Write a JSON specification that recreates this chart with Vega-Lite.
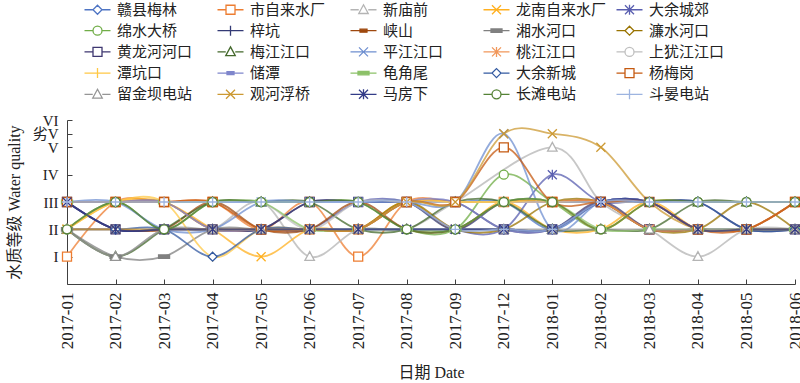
{
"$schema":"https://vega.github.io/schema/vega-lite/v6.json",
"width":728,"height":164,
"autosize":{"type":"none"},
"padding":{"left":67,"top":120,"right":5,"bottom":99},
"background":"white",
"config":{"view":{"stroke":null},
 "axis":{"grid":false,"domainColor":"#404040","tickColor":"#404040","tickSize":-5,"labelFont":"Liberation Serif","labelFontSize":16,"labelColor":"#222","titleFont":"Liberation Serif, Noto Sans CJK SC","titleFontSize":16,"titleFontWeight":"normal","titleColor":"#222","labelOverlap":false,"labelBound":false},
 "legend":{"orient":"none","legendX":15,"legendY":-118,"columns":5,"direction":"horizontal","title":null,"gridAlign":"all","columnPadding":6,"rowPadding":4.2,"symbolSize":100,"symbolStrokeWidth":1.3,"symbolOpacity":1,"symbolOffset":8,"labelOffset":12,"labelFont":"Noto Sans CJK SC","labelFontSize":15,"labelColor":"#222","labelLimit":200,"padding":0}},
"data":{"values":[
{"s":"赣县梅林","d":"2017-01","v":3},{"s":"赣县梅林","d":"2017-02","v":3},{"s":"赣县梅林","d":"2017-03","v":3},{"s":"赣县梅林","d":"2017-04","v":3},{"s":"赣县梅林","d":"2017-05","v":3},{"s":"赣县梅林","d":"2017-06","v":3},{"s":"赣县梅林","d":"2017-07","v":3},{"s":"赣县梅林","d":"2017-08","v":3},{"s":"赣县梅林","d":"2017-09","v":3},{"s":"赣县梅林","d":"2017-12","v":3},{"s":"赣县梅林","d":"2018-01","v":2},{"s":"赣县梅林","d":"2018-02","v":3},{"s":"赣县梅林","d":"2018-03","v":3},{"s":"赣县梅林","d":"2018-04","v":3},{"s":"赣县梅林","d":"2018-05","v":3},{"s":"赣县梅林","d":"2018-06","v":3},
{"s":"市自来水厂","d":"2017-01","v":1},{"s":"市自来水厂","d":"2017-02","v":3},{"s":"市自来水厂","d":"2017-03","v":3},{"s":"市自来水厂","d":"2017-04","v":3},{"s":"市自来水厂","d":"2017-05","v":2},{"s":"市自来水厂","d":"2017-06","v":3},{"s":"市自来水厂","d":"2017-07","v":1},{"s":"市自来水厂","d":"2017-08","v":3},{"s":"市自来水厂","d":"2017-09","v":3},{"s":"市自来水厂","d":"2017-12","v":3},{"s":"市自来水厂","d":"2018-01","v":3},{"s":"市自来水厂","d":"2018-02","v":3},{"s":"市自来水厂","d":"2018-03","v":2},{"s":"市自来水厂","d":"2018-04","v":2},{"s":"市自来水厂","d":"2018-05","v":2},{"s":"市自来水厂","d":"2018-06","v":3},
{"s":"新庙前","d":"2017-01","v":2},{"s":"新庙前","d":"2017-02","v":1},{"s":"新庙前","d":"2017-03","v":2},{"s":"新庙前","d":"2017-04","v":2},{"s":"新庙前","d":"2017-05","v":3},{"s":"新庙前","d":"2017-06","v":1},{"s":"新庙前","d":"2017-07","v":2},{"s":"新庙前","d":"2017-08","v":2},{"s":"新庙前","d":"2017-09","v":3},{"s":"新庙前","d":"2018-01","v":5},{"s":"新庙前","d":"2018-02","v":3},{"s":"新庙前","d":"2018-03","v":2},{"s":"新庙前","d":"2018-04","v":1},{"s":"新庙前","d":"2018-05","v":2},{"s":"新庙前","d":"2018-06","v":2},
{"s":"龙南自来水厂","d":"2017-01","v":2},{"s":"龙南自来水厂","d":"2017-02","v":3},{"s":"龙南自来水厂","d":"2017-03","v":3},{"s":"龙南自来水厂","d":"2017-04","v":2},{"s":"龙南自来水厂","d":"2017-05","v":1},{"s":"龙南自来水厂","d":"2017-06","v":2},{"s":"龙南自来水厂","d":"2017-07","v":2},{"s":"龙南自来水厂","d":"2017-08","v":3},{"s":"龙南自来水厂","d":"2017-09","v":2},{"s":"龙南自来水厂","d":"2017-12","v":3},{"s":"龙南自来水厂","d":"2018-01","v":2},{"s":"龙南自来水厂","d":"2018-02","v":2},{"s":"龙南自来水厂","d":"2018-03","v":3},{"s":"龙南自来水厂","d":"2018-04","v":2},{"s":"龙南自来水厂","d":"2018-05","v":2},{"s":"龙南自来水厂","d":"2018-06","v":2},
{"s":"大余城郊","d":"2017-01","v":3},{"s":"大余城郊","d":"2017-02","v":2},{"s":"大余城郊","d":"2017-03","v":2},{"s":"大余城郊","d":"2017-04","v":2},{"s":"大余城郊","d":"2017-05","v":2},{"s":"大余城郊","d":"2017-06","v":2},{"s":"大余城郊","d":"2017-07","v":3},{"s":"大余城郊","d":"2017-08","v":3},{"s":"大余城郊","d":"2017-09","v":2},{"s":"大余城郊","d":"2017-12","v":2},{"s":"大余城郊","d":"2018-01","v":4},{"s":"大余城郊","d":"2018-02","v":3},{"s":"大余城郊","d":"2018-03","v":3},{"s":"大余城郊","d":"2018-04","v":2},{"s":"大余城郊","d":"2018-05","v":2},{"s":"大余城郊","d":"2018-06","v":2},
{"s":"绵水大桥","d":"2017-01","v":2},{"s":"绵水大桥","d":"2017-02","v":3},{"s":"绵水大桥","d":"2017-03","v":2},{"s":"绵水大桥","d":"2017-04","v":3},{"s":"绵水大桥","d":"2017-05","v":3},{"s":"绵水大桥","d":"2017-06","v":3},{"s":"绵水大桥","d":"2017-07","v":3},{"s":"绵水大桥","d":"2017-08","v":2},{"s":"绵水大桥","d":"2017-09","v":2},{"s":"绵水大桥","d":"2017-12","v":4},{"s":"绵水大桥","d":"2018-01","v":3},{"s":"绵水大桥","d":"2018-02","v":2},{"s":"绵水大桥","d":"2018-03","v":3},{"s":"绵水大桥","d":"2018-04","v":3},{"s":"绵水大桥","d":"2018-05","v":3},{"s":"绵水大桥","d":"2018-06","v":3},
{"s":"梓坑","d":"2017-01","v":3},{"s":"梓坑","d":"2017-02","v":2},{"s":"梓坑","d":"2017-03","v":2},{"s":"梓坑","d":"2017-04","v":2},{"s":"梓坑","d":"2017-05","v":2},{"s":"梓坑","d":"2017-06","v":3},{"s":"梓坑","d":"2017-07","v":3},{"s":"梓坑","d":"2017-08","v":3},{"s":"梓坑","d":"2017-09","v":2},{"s":"梓坑","d":"2017-12","v":3},{"s":"梓坑","d":"2018-01","v":3},{"s":"梓坑","d":"2018-02","v":3},{"s":"梓坑","d":"2018-03","v":3},{"s":"梓坑","d":"2018-04","v":3},{"s":"梓坑","d":"2018-05","v":2},{"s":"梓坑","d":"2018-06","v":2},
{"s":"峡山","d":"2017-01","v":2},{"s":"峡山","d":"2017-02","v":2},{"s":"峡山","d":"2017-03","v":2},{"s":"峡山","d":"2017-04","v":3},{"s":"峡山","d":"2017-05","v":2},{"s":"峡山","d":"2017-06","v":2},{"s":"峡山","d":"2017-07","v":3},{"s":"峡山","d":"2017-08","v":2},{"s":"峡山","d":"2017-09","v":2},{"s":"峡山","d":"2017-12","v":3},{"s":"峡山","d":"2018-01","v":3},{"s":"峡山","d":"2018-02","v":3},{"s":"峡山","d":"2018-03","v":2},{"s":"峡山","d":"2018-04","v":2},{"s":"峡山","d":"2018-05","v":2},{"s":"峡山","d":"2018-06","v":3},
{"s":"湘水河口","d":"2017-01","v":2},{"s":"湘水河口","d":"2017-02","v":1},{"s":"湘水河口","d":"2017-03","v":1},{"s":"湘水河口","d":"2017-04","v":2},{"s":"湘水河口","d":"2017-05","v":2},{"s":"湘水河口","d":"2017-06","v":2},{"s":"湘水河口","d":"2017-07","v":2},{"s":"湘水河口","d":"2017-08","v":2},{"s":"湘水河口","d":"2017-09","v":2},{"s":"湘水河口","d":"2017-12","v":2},{"s":"湘水河口","d":"2018-01","v":2},{"s":"湘水河口","d":"2018-02","v":3},{"s":"湘水河口","d":"2018-03","v":3},{"s":"湘水河口","d":"2018-04","v":2},{"s":"湘水河口","d":"2018-05","v":2},{"s":"湘水河口","d":"2018-06","v":2},
{"s":"濂水河口","d":"2017-01","v":3},{"s":"濂水河口","d":"2017-02","v":3},{"s":"濂水河口","d":"2017-03","v":3},{"s":"濂水河口","d":"2017-04","v":2},{"s":"濂水河口","d":"2017-05","v":2},{"s":"濂水河口","d":"2017-06","v":2},{"s":"濂水河口","d":"2017-07","v":2},{"s":"濂水河口","d":"2017-08","v":3},{"s":"濂水河口","d":"2017-09","v":2},{"s":"濂水河口","d":"2017-12","v":2},{"s":"濂水河口","d":"2018-01","v":3},{"s":"濂水河口","d":"2018-02","v":3},{"s":"濂水河口","d":"2018-03","v":2},{"s":"濂水河口","d":"2018-04","v":2},{"s":"濂水河口","d":"2018-05","v":3},{"s":"濂水河口","d":"2018-06","v":2},
{"s":"黄龙河河口","d":"2017-01","v":3},{"s":"黄龙河河口","d":"2017-02","v":2},{"s":"黄龙河河口","d":"2017-03","v":2},{"s":"黄龙河河口","d":"2017-04","v":2},{"s":"黄龙河河口","d":"2017-05","v":2},{"s":"黄龙河河口","d":"2017-06","v":3},{"s":"黄龙河河口","d":"2017-07","v":3},{"s":"黄龙河河口","d":"2017-08","v":3},{"s":"黄龙河河口","d":"2017-09","v":3},{"s":"黄龙河河口","d":"2017-12","v":2},{"s":"黄龙河河口","d":"2018-01","v":2},{"s":"黄龙河河口","d":"2018-02","v":3},{"s":"黄龙河河口","d":"2018-03","v":2},{"s":"黄龙河河口","d":"2018-04","v":2},{"s":"黄龙河河口","d":"2018-05","v":2},{"s":"黄龙河河口","d":"2018-06","v":2},
{"s":"梅江江口","d":"2017-01","v":2},{"s":"梅江江口","d":"2017-02","v":1},{"s":"梅江江口","d":"2017-03","v":2},{"s":"梅江江口","d":"2017-04","v":3},{"s":"梅江江口","d":"2017-05","v":3},{"s":"梅江江口","d":"2017-06","v":3},{"s":"梅江江口","d":"2017-07","v":2},{"s":"梅江江口","d":"2017-08","v":2},{"s":"梅江江口","d":"2017-09","v":3},{"s":"梅江江口","d":"2017-12","v":3},{"s":"梅江江口","d":"2018-01","v":2},{"s":"梅江江口","d":"2018-02","v":2},{"s":"梅江江口","d":"2018-03","v":2},{"s":"梅江江口","d":"2018-04","v":3},{"s":"梅江江口","d":"2018-05","v":3},{"s":"梅江江口","d":"2018-06","v":3},
{"s":"平江江口","d":"2017-01","v":3},{"s":"平江江口","d":"2017-02","v":3},{"s":"平江江口","d":"2017-03","v":2},{"s":"平江江口","d":"2017-04","v":2},{"s":"平江江口","d":"2017-05","v":3},{"s":"平江江口","d":"2017-06","v":3},{"s":"平江江口","d":"2017-07","v":3},{"s":"平江江口","d":"2017-08","v":3},{"s":"平江江口","d":"2017-09","v":3},{"s":"平江江口","d":"2017-12","v":5.5},{"s":"平江江口","d":"2018-01","v":2},{"s":"平江江口","d":"2018-02","v":3},{"s":"平江江口","d":"2018-03","v":3},{"s":"平江江口","d":"2018-04","v":2},{"s":"平江江口","d":"2018-05","v":2},{"s":"平江江口","d":"2018-06","v":2},
{"s":"桃江江口","d":"2017-01","v":3},{"s":"桃江江口","d":"2017-02","v":3},{"s":"桃江江口","d":"2017-03","v":3},{"s":"桃江江口","d":"2017-04","v":2},{"s":"桃江江口","d":"2017-05","v":2},{"s":"桃江江口","d":"2017-06","v":2},{"s":"桃江江口","d":"2017-07","v":2},{"s":"桃江江口","d":"2017-08","v":3},{"s":"桃江江口","d":"2017-09","v":3},{"s":"桃江江口","d":"2017-12","v":3},{"s":"桃江江口","d":"2018-01","v":3},{"s":"桃江江口","d":"2018-02","v":3},{"s":"桃江江口","d":"2018-03","v":2},{"s":"桃江江口","d":"2018-04","v":2},{"s":"桃江江口","d":"2018-05","v":2},{"s":"桃江江口","d":"2018-06","v":3},
{"s":"上犹江江口","d":"2017-01","v":3},{"s":"上犹江江口","d":"2017-02","v":3},{"s":"上犹江江口","d":"2017-03","v":3},{"s":"上犹江江口","d":"2017-04","v":3},{"s":"上犹江江口","d":"2017-05","v":3},{"s":"上犹江江口","d":"2017-06","v":2},{"s":"上犹江江口","d":"2017-07","v":3},{"s":"上犹江江口","d":"2017-08","v":3},{"s":"上犹江江口","d":"2017-09","v":3},{"s":"上犹江江口","d":"2017-12","v":3},{"s":"上犹江江口","d":"2018-01","v":3},{"s":"上犹江江口","d":"2018-02","v":3},{"s":"上犹江江口","d":"2018-03","v":3},{"s":"上犹江江口","d":"2018-04","v":3},{"s":"上犹江江口","d":"2018-05","v":3},{"s":"上犹江江口","d":"2018-06","v":3},
{"s":"潭坑口","d":"2017-01","v":2},{"s":"潭坑口","d":"2017-02","v":3},{"s":"潭坑口","d":"2017-03","v":3},{"s":"潭坑口","d":"2017-04","v":1},{"s":"潭坑口","d":"2017-05","v":2},{"s":"潭坑口","d":"2017-06","v":2},{"s":"潭坑口","d":"2017-07","v":2},{"s":"潭坑口","d":"2017-08","v":3},{"s":"潭坑口","d":"2017-09","v":3},{"s":"潭坑口","d":"2017-12","v":3},{"s":"潭坑口","d":"2018-01","v":3},{"s":"潭坑口","d":"2018-02","v":2},{"s":"潭坑口","d":"2018-03","v":3},{"s":"潭坑口","d":"2018-04","v":3},{"s":"潭坑口","d":"2018-05","v":3},{"s":"潭坑口","d":"2018-06","v":3},
{"s":"储潭","d":"2017-01","v":3},{"s":"储潭","d":"2017-02","v":3},{"s":"储潭","d":"2017-03","v":3},{"s":"储潭","d":"2017-04","v":2},{"s":"储潭","d":"2017-05","v":2},{"s":"储潭","d":"2017-06","v":2},{"s":"储潭","d":"2017-07","v":2},{"s":"储潭","d":"2017-08","v":3},{"s":"储潭","d":"2017-09","v":3},{"s":"储潭","d":"2017-12","v":2},{"s":"储潭","d":"2018-01","v":2},{"s":"储潭","d":"2018-02","v":3},{"s":"储潭","d":"2018-03","v":3},{"s":"储潭","d":"2018-04","v":2},{"s":"储潭","d":"2018-05","v":2},{"s":"储潭","d":"2018-06","v":2},
{"s":"龟角尾","d":"2017-01","v":3},{"s":"龟角尾","d":"2017-02","v":3},{"s":"龟角尾","d":"2017-03","v":3},{"s":"龟角尾","d":"2017-04","v":3},{"s":"龟角尾","d":"2017-05","v":3},{"s":"龟角尾","d":"2017-06","v":2},{"s":"龟角尾","d":"2017-07","v":2},{"s":"龟角尾","d":"2017-08","v":2},{"s":"龟角尾","d":"2017-09","v":2},{"s":"龟角尾","d":"2017-12","v":3},{"s":"龟角尾","d":"2018-01","v":3},{"s":"龟角尾","d":"2018-02","v":2},{"s":"龟角尾","d":"2018-03","v":2},{"s":"龟角尾","d":"2018-04","v":2},{"s":"龟角尾","d":"2018-05","v":2},{"s":"龟角尾","d":"2018-06","v":2},
{"s":"大余新城","d":"2017-01","v":2},{"s":"大余新城","d":"2017-02","v":2},{"s":"大余新城","d":"2017-03","v":2},{"s":"大余新城","d":"2017-04","v":1},{"s":"大余新城","d":"2017-05","v":2},{"s":"大余新城","d":"2017-06","v":2},{"s":"大余新城","d":"2017-07","v":2},{"s":"大余新城","d":"2017-08","v":2},{"s":"大余新城","d":"2017-09","v":2},{"s":"大余新城","d":"2017-12","v":2},{"s":"大余新城","d":"2018-01","v":2},{"s":"大余新城","d":"2018-02","v":3},{"s":"大余新城","d":"2018-03","v":3},{"s":"大余新城","d":"2018-04","v":3},{"s":"大余新城","d":"2018-05","v":2},{"s":"大余新城","d":"2018-06","v":2},
{"s":"杨梅岗","d":"2017-01","v":3},{"s":"杨梅岗","d":"2017-02","v":3},{"s":"杨梅岗","d":"2017-03","v":3},{"s":"杨梅岗","d":"2017-04","v":3},{"s":"杨梅岗","d":"2017-05","v":2},{"s":"杨梅岗","d":"2017-06","v":2},{"s":"杨梅岗","d":"2017-07","v":2},{"s":"杨梅岗","d":"2017-08","v":3},{"s":"杨梅岗","d":"2017-09","v":3},{"s":"杨梅岗","d":"2017-12","v":5},{"s":"杨梅岗","d":"2018-01","v":3},{"s":"杨梅岗","d":"2018-02","v":3},{"s":"杨梅岗","d":"2018-03","v":3},{"s":"杨梅岗","d":"2018-04","v":2},{"s":"杨梅岗","d":"2018-05","v":2},{"s":"杨梅岗","d":"2018-06","v":3},
{"s":"留金坝电站","d":"2017-01","v":2},{"s":"留金坝电站","d":"2017-02","v":1},{"s":"留金坝电站","d":"2017-03","v":2},{"s":"留金坝电站","d":"2017-04","v":2},{"s":"留金坝电站","d":"2017-05","v":2},{"s":"留金坝电站","d":"2017-06","v":2},{"s":"留金坝电站","d":"2017-07","v":2},{"s":"留金坝电站","d":"2017-08","v":2},{"s":"留金坝电站","d":"2017-09","v":2},{"s":"留金坝电站","d":"2017-12","v":2},{"s":"留金坝电站","d":"2018-01","v":2},{"s":"留金坝电站","d":"2018-02","v":2},{"s":"留金坝电站","d":"2018-03","v":2},{"s":"留金坝电站","d":"2018-04","v":2},{"s":"留金坝电站","d":"2018-05","v":2},{"s":"留金坝电站","d":"2018-06","v":2},
{"s":"观河浮桥","d":"2017-01","v":2},{"s":"观河浮桥","d":"2017-02","v":2},{"s":"观河浮桥","d":"2017-03","v":2},{"s":"观河浮桥","d":"2017-04","v":2},{"s":"观河浮桥","d":"2017-05","v":2},{"s":"观河浮桥","d":"2017-06","v":2},{"s":"观河浮桥","d":"2017-07","v":2},{"s":"观河浮桥","d":"2017-08","v":3},{"s":"观河浮桥","d":"2017-09","v":3},{"s":"观河浮桥","d":"2017-12","v":5.5},{"s":"观河浮桥","d":"2018-01","v":5.5},{"s":"观河浮桥","d":"2018-02","v":5},{"s":"观河浮桥","d":"2018-03","v":3},{"s":"观河浮桥","d":"2018-04","v":2},{"s":"观河浮桥","d":"2018-05","v":2},{"s":"观河浮桥","d":"2018-06","v":2},
{"s":"马房下","d":"2017-01","v":3},{"s":"马房下","d":"2017-02","v":2},{"s":"马房下","d":"2017-03","v":2},{"s":"马房下","d":"2017-04","v":2},{"s":"马房下","d":"2017-05","v":2},{"s":"马房下","d":"2017-06","v":2},{"s":"马房下","d":"2017-07","v":2},{"s":"马房下","d":"2017-08","v":2},{"s":"马房下","d":"2017-09","v":2},{"s":"马房下","d":"2017-12","v":2},{"s":"马房下","d":"2018-01","v":2},{"s":"马房下","d":"2018-02","v":3},{"s":"马房下","d":"2018-03","v":3},{"s":"马房下","d":"2018-04","v":2},{"s":"马房下","d":"2018-05","v":2},{"s":"马房下","d":"2018-06","v":2},
{"s":"长滩电站","d":"2017-01","v":2},{"s":"长滩电站","d":"2017-02","v":3},{"s":"长滩电站","d":"2017-03","v":2},{"s":"长滩电站","d":"2017-04","v":3},{"s":"长滩电站","d":"2017-05","v":3},{"s":"长滩电站","d":"2017-06","v":3},{"s":"长滩电站","d":"2017-07","v":3},{"s":"长滩电站","d":"2017-08","v":2},{"s":"长滩电站","d":"2017-09","v":2},{"s":"长滩电站","d":"2017-12","v":3},{"s":"长滩电站","d":"2018-01","v":3},{"s":"长滩电站","d":"2018-02","v":2},{"s":"长滩电站","d":"2018-03","v":3},{"s":"长滩电站","d":"2018-04","v":3},{"s":"长滩电站","d":"2018-05","v":3},{"s":"长滩电站","d":"2018-06","v":3},
{"s":"斗晏电站","d":"2017-01","v":3},{"s":"斗晏电站","d":"2017-02","v":3},{"s":"斗晏电站","d":"2017-03","v":3},{"s":"斗晏电站","d":"2017-04","v":3},{"s":"斗晏电站","d":"2017-05","v":3},{"s":"斗晏电站","d":"2017-06","v":3},{"s":"斗晏电站","d":"2017-07","v":3},{"s":"斗晏电站","d":"2017-08","v":3},{"s":"斗晏电站","d":"2017-09","v":2},{"s":"斗晏电站","d":"2017-12","v":2},{"s":"斗晏电站","d":"2018-01","v":2},{"s":"斗晏电站","d":"2018-02","v":3},{"s":"斗晏电站","d":"2018-03","v":3},{"s":"斗晏电站","d":"2018-04","v":3},{"s":"斗晏电站","d":"2018-05","v":3},{"s":"斗晏电站","d":"2018-06","v":3}
]},
"encoding":{
 "x":{"field":"d","type":"ordinal","scale":{"type":"point","padding":0},
  "axis":{"title":"日期 Date","labelAngle":-90,"labelAlign":"right","labelBaseline":"middle","labelPadding":13,"titlePadding":16,"labelFontSize":17}},
 "y":{"field":"v","type":"quantitative","scale":{"domain":[0,6],"nice":false,"zero":false},
  "axis":{"title":"水质等级 Water quality","values":[1,2,3,4,5,5.5,6],"labelExpr":"datum.value==1?'I':datum.value==2?'II':datum.value==3?'III':datum.value==4?'IV':datum.value==5?'V':datum.value==5.5?'劣V':'VI'","labelFont":"Liberation Serif, Noto Sans CJK SC","labelFontSize":15,"labelPadding":14,"titlePadding":10}}
},
"resolve":{"scale":{"stroke":"independent","fill":"independent","shape":"independent"}},
"layer":[
 {"mark":{"type":"line","interpolate":"cardinal","tension":0,"strokeWidth":1.8,"opacity":0.75},
  "encoding":{"stroke":{"field":"s","type":"nominal","legend":null,
   "scale":{"domain":["赣县梅林","市自来水厂","新庙前","龙南自来水厂","大余城郊","绵水大桥","梓坑","峡山","湘水河口","濂水河口","黄龙河河口","梅江江口","平江江口","桃江江口","上犹江江口","潭坑口","储潭","龟角尾","大余新城","杨梅岗","留金坝电站","观河浮桥","马房下","长滩电站","斗晏电站"],
    "range":["#4F75C4","#ED7D31","#B4B4B4","#FFB020","#5A5FB0","#70AD47","#333A75","#9E480E","#808080","#997300","#3E3770","#43682B","#6F8FD0","#F1975A","#BFBFBF","#FFC845","#7F86CC","#8CC168","#335AA1","#C55A11","#959595","#CC9933","#333C88","#548235","#9DB4E0"]}}}},
 {"mark":{"type":"point","size":100,"strokeWidth":1.3,"opacity":1},
  "encoding":{
   "stroke":{"field":"s","type":"nominal","legend":null,"scale":{"domain":["赣县梅林","市自来水厂","新庙前","龙南自来水厂","大余城郊","绵水大桥","梓坑","峡山","湘水河口","濂水河口","黄龙河河口","梅江江口","平江江口","桃江江口","上犹江江口","潭坑口","储潭","龟角尾","大余新城","杨梅岗","留金坝电站","观河浮桥","马房下","长滩电站","斗晏电站"],
    "range":["#4F75C4","#ED7D31","#B4B4B4","#FFB020","#5A5FB0","#70AD47","#333A75","#9E480E","#808080","#997300","#3E3770","#43682B","#6F8FD0","#F1975A","#BFBFBF","#FFC845","#7F86CC","#8CC168","#335AA1","#C55A11","#959595","#CC9933","#333C88","#548235","#9DB4E0"]}},
   "fill":{"field":"s","type":"nominal","legend":null,"scale":{"domain":["赣县梅林","市自来水厂","新庙前","龙南自来水厂","大余城郊","绵水大桥","梓坑","峡山","湘水河口","濂水河口","黄龙河河口","梅江江口","平江江口","桃江江口","上犹江江口","潭坑口","储潭","龟角尾","大余新城","杨梅岗","留金坝电站","观河浮桥","马房下","长滩电站","斗晏电站"],
    "range":["#ffffff","#ffffff","#ffffff","transparent","transparent","#ffffff","transparent","#9E480E","#808080","#ffffff","#ffffff","#ffffff","transparent","transparent","#ffffff","transparent","#7F86CC","#8CC168","#ffffff","#ffffff","#ffffff","transparent","transparent","#ffffff","transparent"]}},
   "shape":{"field":"s","type":"nominal","legend":null,"scale":{"domain":["赣县梅林","市自来水厂","新庙前","龙南自来水厂","大余城郊","绵水大桥","梓坑","峡山","湘水河口","濂水河口","黄龙河河口","梅江江口","平江江口","桃江江口","上犹江江口","潭坑口","储潭","龟角尾","大余新城","杨梅岗","留金坝电站","观河浮桥","马房下","长滩电站","斗晏电站"],
    "range":["M0,-0.9L0.9,0L0,0.9L-0.9,0Z","M-0.9,-0.9H0.9V0.9H-0.9Z","M0,-1L0.95,0.75H-0.95Z","M-0.9,-0.9L0.9,0.9M-0.9,0.9L0.9,-0.9","M-0.9,-0.9L0.9,0.9M-0.9,0.9L0.9,-0.9M0,-1V1","M-0.9,0A0.9,0.9 0 1,0 0.9,0A0.9,0.9 0 1,0 -0.9,0Z","M0,-1V1M-1,0H1","M-0.7,-0.3H0.7V0.3H-0.7Z","M-1.1,-0.35H1.1V0.35H-1.1Z","M0,-0.9L0.9,0L0,0.9L-0.9,0Z","M-0.9,-0.9H0.9V0.9H-0.9Z","M0,-1L0.95,0.75H-0.95Z","M-0.9,-0.9L0.9,0.9M-0.9,0.9L0.9,-0.9","M-0.9,-0.9L0.9,0.9M-0.9,0.9L0.9,-0.9M0,-1V1","M-0.9,0A0.9,0.9 0 1,0 0.9,0A0.9,0.9 0 1,0 -0.9,0Z","M0,-1V1M-1,0H1","M-0.7,-0.3H0.7V0.3H-0.7Z","M-1.1,-0.35H1.1V0.35H-1.1Z","M0,-0.9L0.9,0L0,0.9L-0.9,0Z","M-0.9,-0.9H0.9V0.9H-0.9Z","M0,-1L0.95,0.75H-0.95Z","M-0.9,-0.9L0.9,0.9M-0.9,0.9L0.9,-0.9","M-0.9,-0.9L0.9,0.9M-0.9,0.9L0.9,-0.9M0,-1V1","M-0.9,0A0.9,0.9 0 1,0 0.9,0A0.9,0.9 0 1,0 -0.9,0Z","M0,-1V1M-1,0H1"]}}
  }},
 {"mark":{"type":"point","size":100,"strokeWidth":1.3,"opacity":0},
  "encoding":{
   "stroke":{"field":"s","type":"nominal","scale":{"domain":["赣县梅林","市自来水厂","新庙前","龙南自来水厂","大余城郊","绵水大桥","梓坑","峡山","湘水河口","濂水河口","黄龙河河口","梅江江口","平江江口","桃江江口","上犹江江口","潭坑口","储潭","龟角尾","大余新城","杨梅岗","留金坝电站","观河浮桥","马房下","长滩电站","斗晏电站"],
    "range":["#4F75C4","#ED7D31","#B4B4B4","#FFB020","#5A5FB0","#70AD47","#333A75","#9E480E","#808080","#997300","#3E3770","#43682B","#6F8FD0","#F1975A","#BFBFBF","#FFC845","#7F86CC","#8CC168","#335AA1","#C55A11","#959595","#CC9933","#333C88","#548235","#9DB4E0"]}},
   "fill":{"field":"s","type":"nominal","scale":{"domain":["赣县梅林","市自来水厂","新庙前","龙南自来水厂","大余城郊","绵水大桥","梓坑","峡山","湘水河口","濂水河口","黄龙河河口","梅江江口","平江江口","桃江江口","上犹江江口","潭坑口","储潭","龟角尾","大余新城","杨梅岗","留金坝电站","观河浮桥","马房下","长滩电站","斗晏电站"],
    "range":["#ffffff","#ffffff","#ffffff","transparent","transparent","#ffffff","transparent","#9E480E","#808080","#ffffff","#ffffff","#ffffff","transparent","transparent","#ffffff","transparent","#7F86CC","#8CC168","#ffffff","#ffffff","#ffffff","transparent","transparent","#ffffff","transparent"]}},
   "shape":{"field":"s","type":"nominal","scale":{"domain":["赣县梅林","市自来水厂","新庙前","龙南自来水厂","大余城郊","绵水大桥","梓坑","峡山","湘水河口","濂水河口","黄龙河河口","梅江江口","平江江口","桃江江口","上犹江江口","潭坑口","储潭","龟角尾","大余新城","杨梅岗","留金坝电站","观河浮桥","马房下","长滩电站","斗晏电站"],
    "range":["M-2.6,0H-0.9M0.9,0H2.6M0,-0.9L0.9,0L0,0.9L-0.9,0Z","M-2.6,0H-0.9M0.9,0H2.6M-0.9,-0.9H0.9V0.9H-0.9Z","M-2.6,0H-0.95M0.95,0H2.6M0,-1L0.95,0.75H-0.95Z","M-2.6,0H2.6M-0.9,-0.9L0.9,0.9M-0.9,0.9L0.9,-0.9","M-2.6,0H2.6M-0.9,-0.9L0.9,0.9M-0.9,0.9L0.9,-0.9M0,-1V1","M-2.6,0H-0.9M0.9,0H2.6M-0.9,0A0.9,0.9 0 1,0 0.9,0A0.9,0.9 0 1,0 -0.9,0Z","M-2.6,0H2.6M0,-1V1","M-2.6,0H2.6M-0.7,-0.3H0.7V0.3H-0.7Z","M-2.6,0H2.6M-1.1,-0.35H1.1V0.35H-1.1Z","M-2.6,0H-0.9M0.9,0H2.6M0,-0.9L0.9,0L0,0.9L-0.9,0Z","M-2.6,0H-0.9M0.9,0H2.6M-0.9,-0.9H0.9V0.9H-0.9Z","M-2.6,0H-0.95M0.95,0H2.6M0,-1L0.95,0.75H-0.95Z","M-2.6,0H2.6M-0.9,-0.9L0.9,0.9M-0.9,0.9L0.9,-0.9","M-2.6,0H2.6M-0.9,-0.9L0.9,0.9M-0.9,0.9L0.9,-0.9M0,-1V1","M-2.6,0H-0.9M0.9,0H2.6M-0.9,0A0.9,0.9 0 1,0 0.9,0A0.9,0.9 0 1,0 -0.9,0Z","M-2.6,0H2.6M0,-1V1","M-2.6,0H2.6M-0.7,-0.3H0.7V0.3H-0.7Z","M-2.6,0H2.6M-1.1,-0.35H1.1V0.35H-1.1Z","M-2.6,0H-0.9M0.9,0H2.6M0,-0.9L0.9,0L0,0.9L-0.9,0Z","M-2.6,0H-0.9M0.9,0H2.6M-0.9,-0.9H0.9V0.9H-0.9Z","M-2.6,0H-0.95M0.95,0H2.6M0,-1L0.95,0.75H-0.95Z","M-2.6,0H2.6M-0.9,-0.9L0.9,0.9M-0.9,0.9L0.9,-0.9","M-2.6,0H2.6M-0.9,-0.9L0.9,0.9M-0.9,0.9L0.9,-0.9M0,-1V1","M-2.6,0H-0.9M0.9,0H2.6M-0.9,0A0.9,0.9 0 1,0 0.9,0A0.9,0.9 0 1,0 -0.9,0Z","M-2.6,0H2.6M0,-1V1"]}}
  }}
]
}
